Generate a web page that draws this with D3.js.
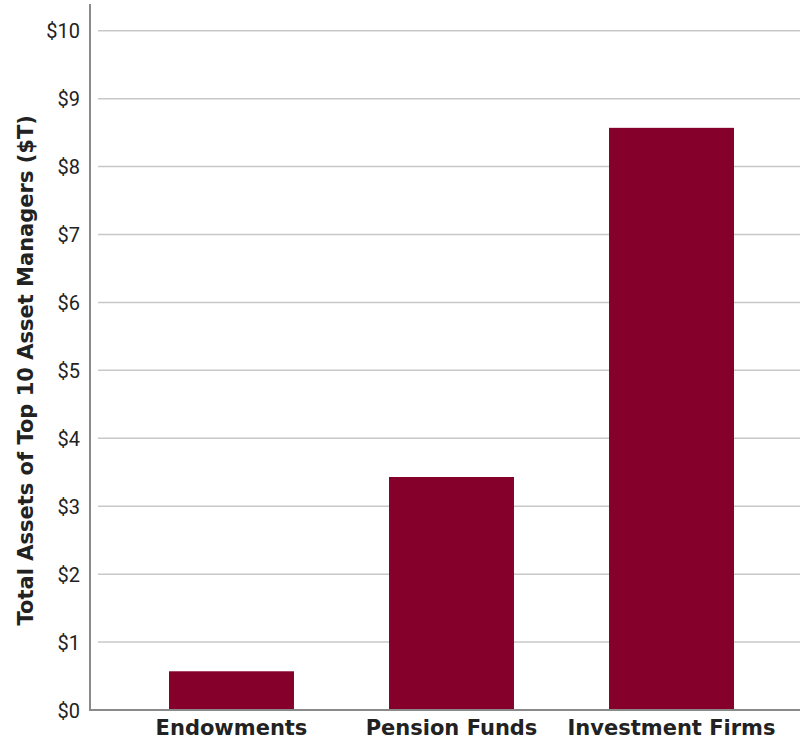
<!DOCTYPE html>
<html>
<head>
<meta charset="utf-8">
<script src="https://cdn.jsdelivr.net/npm/d3@7"></script>
<style>
  html, body { margin: 0; padding: 0; background: #fff; }
  svg { display: block; }
  text { font-family: "Roboto", "Liberation Sans", sans-serif; }
  .bold { font-family: "DejaVu Sans", "Liberation Sans", sans-serif; font-weight: bold; }
</style>
</head>
<body>
<svg id="chart" width="800" height="739"></svg>
<script>
const categories = ["Endowments", "Pension Funds", "Investment Firms"];
const values = [0.57, 3.43, 8.57];
const yTicks = [0, 1, 2, 3, 4, 5, 6, 7, 8, 9, 10];
const yTitle = "Total Assets of Top 10 Asset Managers ($T)";

const svg = d3.select("#chart");
const W = 800, H = 739;
const axisX = 90, y0 = 710, yTop = 30.7;

const x = d3.scaleBand().domain(categories).range([103, 800])
  .paddingInner(0.432).paddingOuter(0.3);
const y = d3.scaleLinear().domain([0, 10]).range([y0, yTop]);

// grid lines
svg.append("g").selectAll("line").data(yTicks.filter(d => d > 0)).join("line")
  .attr("x1", 98).attr("x2", W)
  .attr("y1", d => y(d)).attr("y2", d => y(d))
  .attr("stroke", "#c8c8c8").attr("stroke-width", 1.5);

// bars
svg.append("g").selectAll("rect").data(categories).join("rect")
  .attr("x", d => x(d))
  .attr("width", x.bandwidth())
  .attr("y", (d, i) => y(values[i]))
  .attr("height", (d, i) => y0 - y(values[i]))
  .attr("fill", "#85002a");

// y axis
const yAxis = d3.axisLeft(y).tickValues(yTicks).tickFormat(d => "$" + d).tickSize(0).tickPadding(10);
const gy = svg.append("g").attr("transform", `translate(${axisX},0)`).call(yAxis);
gy.select(".domain").remove();
gy.selectAll("text").attr("font-size", 20).attr("fill", "#222").attr("dy", "0.35em")
  .style("font-family", "Roboto, sans-serif");

svg.append("line").attr("x1", axisX).attr("x2", axisX).attr("y1", 4).attr("y2", y0 + 1)
  .attr("stroke", "#8a8a8a").attr("stroke-width", 2);

// x axis
const xAxis = d3.axisBottom(x).tickSize(0).tickPadding(10);
const gx = svg.append("g").attr("transform", `translate(0,${y0})`).call(xAxis);
gx.select(".domain").remove();
gx.selectAll("text").attr("class", "bold").attr("font-size", 21).attr("fill", "#222")
  .attr("dy", "0.71em").style("font-family", null);
svg.append("line").attr("x1", axisX - 1).attr("x2", W).attr("y1", y0).attr("y2", y0)
  .attr("stroke", "#8a8a8a").attr("stroke-width", 2);

// y title
svg.append("text").attr("class", "bold")
  .attr("transform", `translate(33,${(y(0) + y(10)) / 2}) rotate(-90)`)
  .attr("text-anchor", "middle")
  .attr("font-size", 21).attr("fill", "#222")
  .text(yTitle);
</script>
</body>
</html>
